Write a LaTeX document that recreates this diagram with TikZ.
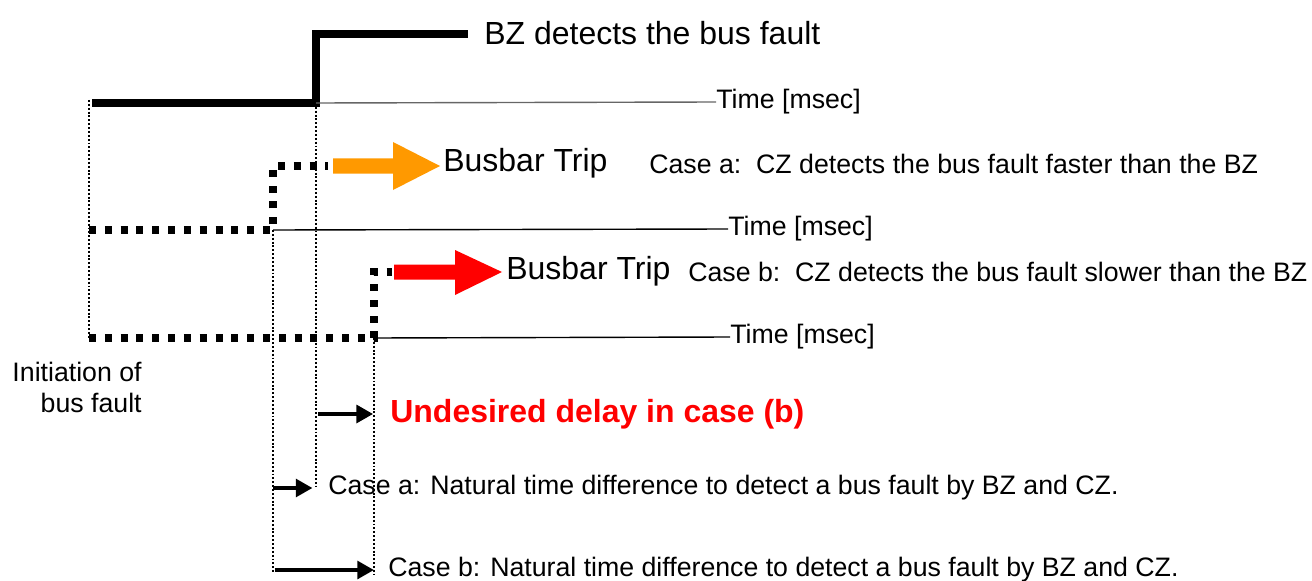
\documentclass[tikz,border=0pt]{standalone}
\usepackage{fontspec}
\setmainfont{Liberation Sans}
\usetikzlibrary{arrows.meta}
\definecolor{tripOrange}{RGB}{255,153,0}
\definecolor{tripRed}{RGB}{255,0,0}

\begin{document}
\begin{tikzpicture}[x=0.02cm,y=-0.02cm,
  big/.style={font=\fontsize{18.2pt}{21pt}\selectfont,inner sep=0pt,anchor=west},
  lbl/.style={font=\fontsize{15.2pt}{17.6pt}\selectfont,inner sep=0pt,anchor=west},
  bzline/.style={line width=4pt},
  czline/.style={line width=4pt,dash pattern=on 4pt off 5pt},
  guide/.style={line width=1.1pt,dash pattern=on 1.1pt off 1.1pt},
  axis/.style={line width=0.8pt},
  gap/.style={-{Triangle[length=9.5pt,width=10pt]},line width=2.8pt}
]
\useasboundingbox (0,0) rectangle (1312,581);
% instants on the time axes
\coordinate (t0) at (89,338);
\coordinate (tA) at (273,230);
\coordinate (tBZ) at (316,103);
\coordinate (tB) at (374,338);

% guide lines
\draw[guide] (89,100) -- (t0);
\draw[guide] (tBZ) -- (316,486);
\draw[guide] (tA) -- (273,574);
\draw[guide] (tB) -- (374,574);

% BZ trace
\draw[bzline] (92,103) -- (tBZ) -- (316,34) -- (468,34);
\node[big] (bz) at (484,33) {BZ detects the bus fault};
\node[lbl] (time1) at (716,102) {Time [msec]};
\draw[axis,black!60] (tBZ) -- (time1.west);

% case a
\draw[czline] (t0 |- tA) -- (tA) -- (273,166) -- (328,166);
\fill[tripOrange] (333,158.5) -- (393,158.5) -- (393,142) -- (440,166) -- (393,190) -- (393,173.5) -- (333,173.5) -- cycle;
\node[big] (tripa) at (443,163) {Busbar Trip};
\node[lbl] (casea) at (649,164) {Case a:\ \ CZ detects the bus fault faster than the BZ};
\node[lbl] (time2) at (728,229) {Time [msec]};
\draw[axis] (tA) -- (time2.west);

% case b
\draw[czline] (t0) -- (tB) -- (374,272) -- (392,272);
\fill[tripRed] (394,264.5) -- (455,264.5) -- (455,250) -- (502,272) -- (455,295) -- (455,279.5) -- (394,279.5) -- cycle;
\node[big] (tripb) at (506,271) {Busbar Trip};
\node[lbl] (caseb) at (688,272) {Case b:\ \ CZ detects the bus fault slower than the BZ};
\node[lbl] (time3) at (730,337) {Time [msec]};
\draw[axis] (tB) -- (time3.west);

\node[lbl,anchor=east,align=right] (init) at (142,387) {Initiation of\\bus fault};

% time differences
\node[big,text=tripRed,font=\fontsize{18.2pt}{21pt}\selectfont\bfseries] (delay) at (390,414) {Undesired delay in case (b)};
\draw[gap,shorten <=1pt,shorten >=0.5pt] (tBZ |- delay.west) -- (tB |- delay.west);
\node[lbl] (nata) at (328,488) {Case a: Natural time difference to detect a bus fault by BZ and CZ.};
\draw[gap,shorten >=2pt] (tA |- nata.west) -- (tBZ |- nata.west);
\node[lbl] (natb) at (388,570) {Case b: Natural time difference to detect a bus fault by BZ and CZ.};
\draw[gap,shorten <=1pt] (tA |- natb.west) -- (tB |- natb.west);
\end{tikzpicture}
\end{document}
